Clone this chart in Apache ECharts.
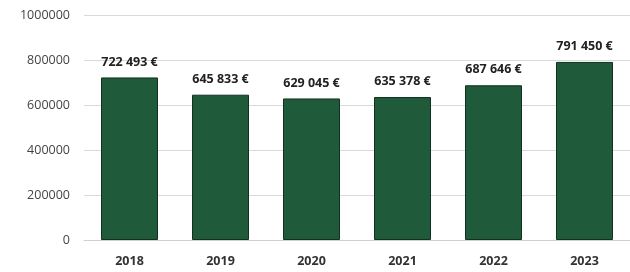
<!DOCTYPE html>
<html>
<head>
    <meta charset="utf-8">
    <title>Chiffre d'affaires</title>
    <script src="https://cdn.jsdelivr.net/npm/echarts@6/dist/echarts.min.js"></script>
    <style>
        html, body {margin: 0; padding: 0; background: #fff;}
        #main {width: 630px; height: 272px;}
    </style>
</head>
<body>
<div id="main"></div>
<script>
    // données
    var years = ['2018', '2019', '2020', '2021', '2022', '2023'];
    var amounts = [722493, 645833, 629045, 635378, 687646, 791450];
    var yTicks = [0, 200000, 400000, 600000, 800000, 1000000];

    // 722493 -> "722 493 €"
    function euro(v) {
        return String(v).replace(/\B(?=(\d{3})+(?!\d))/g, ' ') + ' €';
    }

    var myChart = echarts.init(document.getElementById('main'));
    myChart.setOption({
        animation: false,
        grid: {left: 84, right: -9, top: 15, bottom: 32},
        xAxis: {
            type: 'category',
            data: years,
            axisTick: {show: false},
            axisLine: {lineStyle: {color: '#d0d0d0'}},
            axisLabel: {
                margin: 15,
                color: '#333',
                fontWeight: 'bold',
                fontSize: 12.5,
                fontFamily: 'Open Sans'
            }
        },
        yAxis: {
            type: 'value',
            min: yTicks[0],
            max: yTicks[yTicks.length - 1],
            interval: 200000,
            splitLine: {lineStyle: {color: '#d9d9d9'}},
            axisLabel: {
                margin: 14,
                color: '#444',
                fontSize: 12.5,
                fontFamily: 'Open Sans',
                formatter: function (v) { return String(v); }
            }
        },
        series: [{
            type: 'bar',
            data: amounts,
            barWidth: 57,
            itemStyle: {color: '#1f5a3b', borderColor: '#12301f', borderWidth: 1},
            label: {
                show: true,
                position: 'top',
                distance: 9,
                color: '#222',
                fontWeight: 'bold',
                fontSize: 12.5,
                fontFamily: 'Open Sans',
                formatter: function (p) { return euro(p.value); }
            }
        }]
    });
</script>
</body>
</html>
